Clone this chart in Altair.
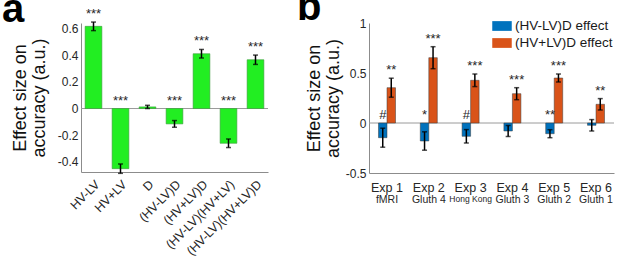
import altair as alt
import pandas as pd

FONT = "Liberation Sans"
TXT = "#262626"
AX = "#8c8c8c"

# ---------------- data: panel a ----------------
a_labels = ["HV-LV", "HV+LV", "D", "(HV-LV)D", "(HV+LV)D", "(HV-LV)(HV+LV)", "(HV-LV)(HV+LV)D"]
a_values = [0.615, -0.45, 0.012, -0.115, 0.41, -0.26, 0.365]
a_errors = [0.032, 0.035, 0.012, 0.025, 0.032, 0.032, 0.035]
a_sig = ["***", "***", "", "***", "***", "***", "***"]
a_ticks = [-0.4, -0.2, 0, 0.2, 0.4, 0.6]

# ---------------- data: panel b ----------------
b_exps = ["Exp 1", "Exp 2", "Exp 3", "Exp 4", "Exp 5", "Exp 6"]
b_subs = ["fMRI", "Gluth 4", "Hong Kong", "Gluth 3", "Gluth 2", "Gluth 1"]
b_series = ["(HV-LV)D effect", "(HV+LV)D effect"]
b_hvlv = [-0.147, -0.18, -0.133, -0.08, -0.107, -0.023]
b_hvlv_err = [0.095, 0.092, 0.067, 0.055, 0.04, 0.057]
b_hvplv = [0.353, 0.653, 0.427, 0.293, 0.45, 0.187]
b_hvplv_err = [0.095, 0.11, 0.063, 0.06, 0.04, 0.057]
b_hvlv_sig = ["#", "*", "#", "", "**", ""]
b_hvplv_sig = ["**", "***", "***", "***", "***", "**"]
b_ticks = [-0.5, 0, 0.5, 1]
b_colors = ["#0072BD", "#D95319"]
green = "#22EE22"

# ---------------- panel a ----------------
da = pd.DataFrame({"cond": a_labels, "val": a_values, "err": a_errors, "sig": a_sig})
da["lo"] = da["val"] - da["err"]
da["hi"] = da["val"] + da["err"]
da["top"] = da["hi"].clip(lower=0)

A_W, A_H = 187, 149
ya_scale = alt.Scale(domain=[-0.475, 0.64], nice=False, zero=False)
ya_axis = alt.Axis(values=a_ticks, labelExpr="toString(datum.value)", grid=False, ticks=False,
                   title=["Effect size on", "accuracy (a.u.)"], labelFontSize=12, labelPadding=3,
                   titlePadding=9)


def ya(field):
    return alt.Y(f"{field}:Q", scale=ya_scale, axis=ya_axis)


xa = alt.X("cond:N", sort=a_labels,
           scale=alt.Scale(paddingInner=0.38, paddingOuter=0.153),
           axis=alt.Axis(title=None, labelAngle=-45, labelAlign="right", labelBaseline="middle",
                         labelFontSize=12.5, labelPadding=10, labelOffset=4, ticks=False))

base_a = alt.Chart(da)
bars_a = base_a.mark_bar(color=green, stroke="#3c9a3c", strokeWidth=0.6).encode(
    x=xa, y=ya("val"), y2=alt.datum(0))
zero_a = alt.Chart(pd.DataFrame({"z": [0]})).mark_rule(color="#9a9a9a", strokeWidth=1).encode(y=ya("z"))
err_a = base_a.mark_rule(color="black", strokeWidth=1.5).encode(x=xa, y=ya("lo"), y2="hi:Q")
caplo_a = base_a.mark_tick(color="black", size=5, thickness=1.5).encode(x=xa, y=ya("lo"))
caphi_a = base_a.mark_tick(color="black", size=5, thickness=1.5).encode(x=xa, y=ya("hi"))
sig_a = base_a.mark_text(baseline="alphabetic", dy=-4, fontSize=13, color=TXT).encode(
    x=xa, y=ya("top"), text="sig:N")
letter_a = alt.Chart(pd.DataFrame({"t": ["a"]})).mark_text(
    align="left", baseline="alphabetic", fontSize=40, fontWeight="bold", color="black").encode(
    x=alt.value(-79), y=alt.value(-1), text="t:N")

panel_a = alt.layer(zero_a, bars_a, err_a, caplo_a, caphi_a, sig_a, letter_a).properties(
    width=A_W, height=A_H)

# ---------------- panel b ----------------
rows = []
for i, e in enumerate(b_exps):
    rows.append({"exp": e, "sub": b_subs[i], "series": b_series[0], "val": b_hvlv[i],
                 "err": b_hvlv_err[i], "sig": b_hvlv_sig[i]})
    rows.append({"exp": e, "sub": b_subs[i], "series": b_series[1], "val": b_hvplv[i],
                 "err": b_hvplv_err[i], "sig": b_hvplv_sig[i]})
db = pd.DataFrame(rows)
db["lo"] = db["val"] - db["err"]
db["hi"] = db["val"] + db["err"]
db["top"] = db["hi"].where(db["val"] > 0, 0.0)

B_W, B_H = 245, 150
yb_scale = alt.Scale(domain=[-0.5, 1], nice=False, zero=False)
yb_axis = alt.Axis(values=b_ticks, labelExpr="toString(datum.value)", grid=False, ticks=False,
                   title=["Effect size on", "accuracy (a.u.)"], labelFontSize=12, labelPadding=3,
                   titlePadding=3)


def yb(field):
    return alt.Y(f"{field}:Q", scale=yb_scale, axis=yb_axis)


xb = alt.X("exp:N", sort=b_exps, scale=alt.Scale(paddingInner=0.593, paddingOuter=0.227),
           axis=alt.Axis(title=None, labelAngle=0, labelFontSize=12.5, labelPadding=8,
                         labelBaseline="top", ticks=False))
xob = alt.XOffset("series:N", sort=b_series, scale=alt.Scale(paddingInner=0, paddingOuter=0))

base_b = alt.Chart(db)
bars_b = base_b.mark_bar(stroke="#3a3a3a", strokeWidth=0.5).encode(
    x=xb, xOffset=xob, y=yb("val"), y2=alt.datum(0),
    color=alt.Color("series:N", sort=b_series,
                    scale=alt.Scale(domain=b_series, range=b_colors),
                    legend=alt.Legend(title=None, orient="none", legendX=411, legendY=-7,
                                      labelFontSize=13.5, labelColor="#1a1a1a",
                                      symbolType="M-1,-0.5H1V0.5H-1Z", symbolSize=380,
                                      symbolStrokeWidth=0, rowPadding=-2, labelOffset=3,
                                      padding=0)))
zero_b = alt.Chart(pd.DataFrame({"z": [0]})).mark_rule(color="#9a9a9a", strokeWidth=1).encode(y=yb("z"))
err_b = base_b.mark_rule(color="black", strokeWidth=1.5).encode(x=xb, xOffset=xob, y=yb("lo"), y2="hi:Q")
caplo_b = base_b.mark_tick(color="black", size=5, thickness=1.5).encode(x=xb, xOffset=xob, y=yb("lo"))
caphi_b = base_b.mark_tick(color="black", size=5, thickness=1.5).encode(x=xb, xOffset=xob, y=yb("hi"))
sig_b = base_b.mark_text(baseline="alphabetic", dy=-4, fontSize=13, color=TXT).encode(
    x=xb, xOffset=xob, y=yb("top"), text="sig:N")
sub_b = alt.Chart(pd.DataFrame({"exp": b_exps, "sub": b_subs})).mark_text(
    baseline="top", fontSize=10, color=TXT).encode(
    x=xb, y=alt.value(B_H + 22), text="sub:N",
    size=alt.condition("datum.sub == 'Hong Kong'", alt.value(8.5), alt.value(10.5)))
letter_b = alt.Chart(pd.DataFrame({"t": ["b"]})).mark_text(
    align="left", baseline="alphabetic", fontSize=40, fontWeight="bold", color="black").encode(
    x=alt.value(-72), y=alt.value(-3), text="t:N")

panel_b = alt.layer(zero_b, bars_b, err_b, caplo_b, caphi_b, sig_b, sub_b, letter_b).properties(
    width=B_W, height=B_H)

chart = alt.hconcat(panel_a, panel_b, spacing=101, bounds="flush").properties(
    autosize=alt.AutoSizeParams(type="none"),
    padding={"left": 81, "top": 23, "right": 536, "bottom": 235},
).configure(font=FONT).configure_view(stroke=None).configure_axis(
    domainColor=AX, domainWidth=1, labelColor=TXT, labelFont=FONT, titleFont=FONT,
    titleFontSize=18, titleFontWeight="normal", titleColor="#111111", titleLineHeight=19,
).configure_legend(labelFont=FONT)

chart.save("out.html", embed_options={"renderer": "svg", "actions": False})
